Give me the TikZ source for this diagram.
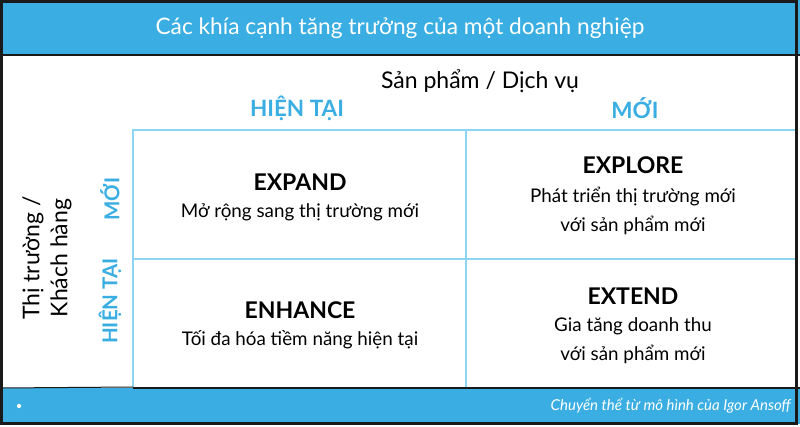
\documentclass[tikz,border=0pt]{standalone}
\usepackage{fontspec}
\setmainfont{Lato}
\usetikzlibrary{positioning}

\definecolor{ansoffblue}{RGB}{58,174,226}
\definecolor{gridblue}{RGB}{140,214,244}
\definecolor{framegray}{RGB}{25,25,25}

\tikzset{
  band/.style={fill=ansoffblue},
  grid line/.style={draw=gridblue, line width=2.5pt},
  cell head/.style={font=\bfseries\fontsize{23}{26}\selectfont, inner sep=0pt},
  cell text/.style={font=\fontsize{18.8}{29}\selectfont, align=center, inner sep=0pt},
  axis label/.style={font=\fontsize{23}{28}\selectfont, align=center, inner sep=0pt},
  axis value/.style={font=\bfseries\fontsize{22.5}{24}\selectfont, text=ansoffblue, inner sep=0pt}
}

\begin{document}
\begin{tikzpicture}[x=1pt, y=-1pt]
\useasboundingbox (0,0) rectangle (800,426);

% Dải tiêu đề và chân trang

\fill[white] (0,0) rectangle (800,426);
\fill[band] (0,0) rectangle (800,55);
\fill[band] (0,388) rectangle (800,424);
\draw[framegray, line width=2pt] (0,55) -- (800,55);
\draw[framegray, line width=2pt] (133,388) -- (800,388);

% Lưới ma trận

\coordinate (grid-nw) at (133,130);
\coordinate (grid-se) at (796,387);
\coordinate (grid-n) at (466,130);
\coordinate (grid-s) at (466,387);
\coordinate (grid-w) at (133,259);
\coordinate (grid-e) at (796,259);
\draw[grid line] (grid-nw |- grid-se) -- (grid-nw) -- (grid-se |- grid-nw);
\draw[grid line] (grid-n) -- (grid-s);
\draw[grid line] (grid-w) -- (grid-e);
\draw[framegray, line width=1pt] (0,388) -- (grid-nw |- grid-se);

\draw[framegray, line width=3pt] (1.5,1.5) rectangle (796.5,423.5);

% Tiêu đề

\node[text=white, font=\fontsize{22.7}{26}\selectfont, inner sep=0pt] (title) at (400,28)
  {Các khía cạnh tăng trưởng của một doanh nghiệp};

% Trục sản phẩm

\node[axis label] (product) at (480,81) {Sản phẩm / Dịch vụ};
\foreach \n/\x/\t in {current/297/HIỆN TẠI, new/635/MỚI}
  \node[axis value] (col-\n) at (\x,108) {\t};

% Trục thị trường

\node[axis label, rotate=90] (market) at (47,258) {Thị trường /\\Khách hàng};
\foreach \n/\y/\t in {new/199/MỚI, current/301/HIỆN TẠI}
  \node[axis value, rotate=90, font=\bfseries\fontsize{20.5}{24}\selectfont] (row-\n) at (110,\y) {\t};

% Các ô

\foreach \n/\x/\y/\t in {expand/300/182/EXPAND, enhance/300/310/ENHANCE,
                         explore/633/165/EXPLORE, extend/633/296/EXTEND}
  \node[cell head] (\n) at (\x,\y) {\t};

\node[cell text] (expand-text) at (300,212) {Mở rộng sang thị trường mới};
\node[cell text] (enhance-text) at (300,340) {Tối đa hóa tiềm năng hiện tại};
\node[cell text] (explore-text) at (633,211) {Phát triển thị trường mới\\với sản phẩm mới};
\node[cell text] (extend-text) at (633,341) {Gia tăng doanh thu\\với sản phẩm mới};

% Chân trang

\node[circle, fill=white, inner sep=1.5pt] (bullet) at (19,406) {};
\node[text=white, font=\itshape\fontsize{15}{18}\selectfont, anchor=east, inner sep=0pt] (source) at (791,406)
  {Chuyển thể từ mô hình của Igor Ansoff};

\end{tikzpicture}
\end{document}
